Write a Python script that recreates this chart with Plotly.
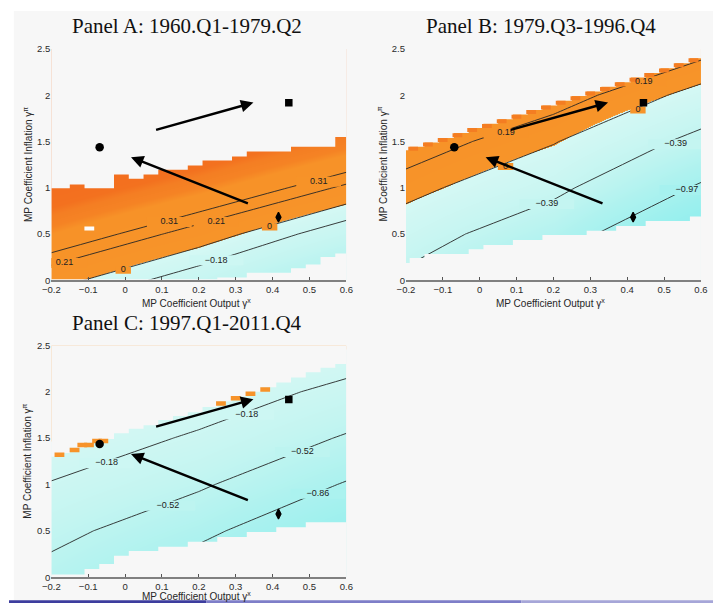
import plotly.graph_objects as go

W, H = 720, 608
BG = '#F7F7F7'
SANS = 'Liberation Sans, Arial, sans-serif'
SERIF = 'Liberation Serif, Times New Roman, serif'

# ---------------- data ----------------
TITLES = ['Panel A: 1960.Q1-1979.Q2', 'Panel B: 1979.Q3-1996.Q4', 'Panel C: 1997.Q1-2011.Q4']

# coarse node grid of the surface (x = output coeff, y = inflation coeff)
X_NODES = [-0.2, 0.2, 0.6]
Y_NODES = [-0.5, 0.0, 0.5, 1.0, 1.5, 2.0, 2.5, 3.0]

Z_A = [[-0.335, -0.77, -1.40],
       [0.09, -0.32, -0.88],
       [0.46, 0.13, -0.33],
       [0.80, 0.51, 0.18],
       [1.15, 0.86, 0.57],
       [1.50, 1.20, 0.92],
       [1.85, 1.55, 1.27],
       [2.20, 1.90, 1.62]]
Z_B = [[-0.92, -1.66, -2.80],
       [-0.48, -1.20, -2.20],
       [-0.18, -0.70, -1.63],
       [0.095, -0.28, -1.03],
       [0.33, 0.02, -0.50],
       [0.55, 0.31, -0.09],
       [0.77, 0.58, 0.28],
       [0.99, 0.85, 0.60]]
Z_C = [[-0.87, -1.42, -2.05],
       [-0.64, -1.09, -1.65],
       [-0.42, -0.77, -1.26],
       [-0.196, -0.475, -0.885],
       [0.01, -0.22, -0.55],
       [0.20, 0.00, -0.26],
       [0.40, 0.22, 0.02],
       [0.60, 0.44, 0.28]]

LEVELS_A = [0.31, 0.21, 0.0, -0.18]
LEVELS_B = [0.19, 0.0, -0.39, -0.97]
LEVELS_C = [-0.18, -0.52, -0.86]

# contour label positions
LAB_A_LV = [0.31, 0.31, 0.21, 0.21, 0.0, 0.0, -0.18]
LAB_A_X = [0.12, 0.525, -0.164, 0.247, -0.005, 0.392, 0.247]
LAB_A_Y = [0.629, 1.064, 0.187, 0.629, 0.109, 0.576, 0.215]
LAB_B_LV = [0.19, 0.19, 0.0, 0.0, -0.39, -0.39, -0.97]
LAB_B_X = [0.071, 0.445, 0.07, 0.429, 0.182, 0.531, 0.562]
LAB_B_Y = [1.59, 2.15, 1.23, 1.839, 0.824, 1.47, 0.976]
LAB_C_LV = [-0.18, -0.18, -0.52, -0.52, -0.86]
LAB_C_X = [-0.05, 0.33, 0.116, 0.481, 0.523]
LAB_C_Y = [1.229, 1.755, 0.77, 1.35, 0.90]

# columns of the computed region and its top / bottom per column
COL_X = [-0.21, -0.17, -0.13, -0.09, -0.05, -0.01, 0.03, 0.07, 0.11, 0.15, 0.19,
         0.23, 0.27, 0.31, 0.35, 0.39, 0.43, 0.47, 0.51, 0.55, 0.59]
A_UPPER = [0.994, 0.994, 1.036, 0.994, 0.994, 1.142, 1.096, 1.142, 1.195, 1.195, 1.241,
           1.294, 1.294, 1.337, 1.39, 1.39, 1.39, 1.443, 1.443, 1.443, 1.549]
A_LOWER = [0.01, 0.01, 0.01, 0.01, 0.01, 0.01, 0.01, 0.01, 0.01, 0.01, 0.01,
           0.01, 0.03, 0.03, 0.08, 0.08, 0.08, 0.13, 0.17, 0.25, 0.29]
B_UPPER = [1.405, 1.443, 1.489, 1.538, 1.59, 1.645, 1.69, 1.74, 1.79, 1.84, 1.889,
           1.94, 1.99, 2.04, 2.09, 2.14, 2.19, 2.24, 2.29, 2.345, 2.40]
B_LOWER = [0.187, 0.24, 0.283, 0.283, 0.283, 0.336, 0.382, 0.382, 0.435, 0.435, 0.488,
           0.488, 0.488, 0.534, 0.534, 0.587, 0.587, 0.64, 0.64, 0.64, 0.69]
C_UPPER = [1.30, 1.34, 1.395, 1.45, 1.49, 1.554, 1.60, 1.64, 1.695, 1.74, 1.78,
           1.835, 1.896, 1.95, 2.0, 2.05, 2.10, 2.155, 2.21, 2.26, 2.30]
C_LOWER = [0.029, 0.029, 0.029, 0.089, 0.142, 0.23, 0.283, 0.283, 0.328, 0.328, 0.381,
           0.381, 0.434, 0.434, 0.487, 0.487, 0.54, 0.54, 0.593, 0.593, 0.593]

# odd cells
A_HOLE_X = [-0.097]
A_HOLE_Y = [0.56]
C_BLOB_X = [-0.178, -0.137, -0.116, -0.098, -0.076, -0.059, 0.26, 0.30, 0.34, 0.38]
C_BLOB_Y = [1.32, 1.372, 1.425, 1.425, 1.47, 1.47, 1.875, 1.93, 1.98, 2.025]

# the three parameter points and the two arrows (same in every panel)
PTS_X = [-0.069, 0.444, 0.416]
PTS_Y = [1.436, 1.917, 0.682]
ARROW_TAIL_X = [0.08, 0.337]
ARROW_TAIL_Y = [1.62, 0.824]
ARROW_HEAD_X = [0.348, 0.016]
ARROW_HEAD_Y = [1.92, 1.33]

X_TICKS = [-0.2, -0.1, 0, 0.1, 0.2, 0.3, 0.4, 0.5, 0.6]
Y_TICKS = [0, 0.5, 1, 1.5, 2, 2.5]

# ---------------- styling ----------------
CS_Z = [(-1.6, '#8EEEEE'), (-1.2, '#9CF0EE'), (-0.8, '#AEF2EF'), (-0.4, '#C4F5F1'),
        (-0.001, '#D5F8F4'), (0.0, '#F79429'), (0.46, '#F79228'), (0.52, '#F58324'),
        (0.60, '#F47E23'), (0.66, '#F3711F'), (1.0, '#F26A1E')]
ZMIN, ZMAX = -1.6, 1.0
COLORSCALE = [[(z - ZMIN) / (ZMAX - ZMIN), c] for z, c in CS_Z]


def _rgb(h):
    h = h.lstrip('#')
    return [int(h[i:i + 2], 16) for i in (0, 2, 4)]


def color_at(z):
    if z <= CS_Z[0][0]:
        return CS_Z[0][1]
    for (z0, c0), (z1, c1) in zip(CS_Z, CS_Z[1:]):
        if z0 <= z <= z1:
            t = (z - z0) / (z1 - z0)
            a, b = _rgb(c0), _rgb(c1)
            return 'rgb(%d,%d,%d)' % tuple(round(a[i] + (b[i] - a[i]) * t) for i in range(3))
    return CS_Z[-1][1]


def fmt(v):
    if v == 0:
        return '0'
    return ('\u2212' if v < 0 else '') + '%.2f' % abs(v)


CELL = 0.04
X_DOM = {'A': [43.3 / W, 345.0 / W], 'B': [406.0 / W, 707.7 / W], 'C': [43.3 / W, 345.0 / W]}
Y_DOM = {'A': [1 - 279.3 / H, 1 - 43.7 / H], 'B': [1 - 279.3 / H, 1 - 43.7 / H],
         'C': [1 - 581.7 / H, 1 - 345.7 / H]}

panels = [
    dict(key='A', n='', z=Z_A, lv=LEVELS_A, llv=LAB_A_LV, lx=LAB_A_X, ly=LAB_A_Y,
         up=A_UPPER, lo=A_LOWER, title=TITLES[0]),
    dict(key='B', n='2', z=Z_B, lv=LEVELS_B, llv=LAB_B_LV, lx=LAB_B_X, ly=LAB_B_Y,
         up=B_UPPER, lo=B_LOWER, title=TITLES[1]),
    dict(key='C', n='3', z=Z_C, lv=LEVELS_C, llv=LAB_C_LV, lx=LAB_C_X, ly=LAB_C_Y,
         up=C_UPPER, lo=C_LOWER, title=TITLES[2]),
]

fig = go.Figure()
layout = dict(width=W, height=H, margin=dict(l=0, r=0, t=0, b=0),
              paper_bgcolor='#FFFFFF', plot_bgcolor=BG, showlegend=False)
annotations = []
shapes = [dict(type='rect', xref='paper', yref='paper', x0=5 / W, x1=1, y0=0, y1=1 - 5 / H,
               fillcolor=BG, line=dict(width=0), layer='below')]


def stair(vals):
    xs, ys = [], []
    for c, v in zip(COL_X, vals):
        xs += [c - CELL / 2, c + CELL / 2]
        ys += [v, v]
    return xs, ys


for p in panels:
    xa, ya = 'x' + p['n'], 'y' + p['n']
    common = dict(xaxis=xa, yaxis=ya, hoverinfo='skip', showlegend=False)
    # surface
    fig.add_trace(go.Heatmap(x=X_NODES, y=Y_NODES, z=p['z'], zsmooth='best',
                             colorscale=COLORSCALE, zmin=ZMIN, zmax=ZMAX, showscale=False, **common))
    # contour lines
    for lv in p['lv']:
        fig.add_trace(go.Contour(x=X_NODES, y=Y_NODES, z=p['z'], autocontour=False,
                                 contours=dict(start=lv, end=lv + 1e-4, size=1, coloring='none'),
                                 line=dict(color='#262626', width=0.9, smoothing=0),
                                 showscale=False, **common))
    # gaps in the lines behind the labels (zero labels get a small gap only)
    texts = [fmt(v) for v in p['llv']]
    for zero in (False, True):
        idx = [i for i, v in enumerate(p['llv']) if (v == 0) == zero]
        if not idx:
            continue
        fig.add_trace(go.Scatter(x=[p['lx'][i] for i in idx], y=[p['ly'][i] for i in idx], mode='markers',
                                 marker=dict(symbol='line-ew', opacity=1,
                                             size=[4 + 7 * len(texts[i]) for i in idx],
                                             line=dict(width=7 if zero else 10,
                                                       color=[color_at(p['llv'][i]) for i in idx])),
                                 **common))
    # masks outside the computed region
    sx, sy = stair(p['up'])
    fig.add_trace(go.Scatter(x=[-0.3, -0.3] + sx + [0.7, 0.7], y=[2.8, p['up'][0]] + sy + [p['up'][-1], 2.8],
                             mode='lines', fill='toself', fillcolor=BG, line=dict(width=0), **common))
    sx, sy = stair(p['lo'])
    fig.add_trace(go.Scatter(x=[-0.3, -0.3] + sx + [0.7, 0.7], y=[-0.3, p['lo'][0]] + sy + [p['lo'][-1], -0.3],
                             mode='lines', fill='toself', fillcolor=BG, line=dict(width=0), **common))
    # odd cells
    if p['key'] == 'A':
        fig.add_trace(go.Scatter(x=A_HOLE_X, y=A_HOLE_Y, mode='markers',
                                 marker=dict(symbol='line-ew', size=7, opacity=1,
                                             line=dict(width=4, color='#FDFDFD')),
                                 **common))
    if p['key'] == 'B':
        fig.add_trace(go.Scatter(x=[c - CELL / 2 + 0.0095 for c in COL_X[1:]],
                                 y=[u - 0.022 for u in B_UPPER[1:]], mode='markers',
                                 marker=dict(symbol='line-ew', size=7, opacity=1,
                                             line=dict(width=4, color='#F47D22')),
                                 **common))
    if p['key'] == 'C':
        fig.add_trace(go.Scatter(x=C_BLOB_X, y=C_BLOB_Y, mode='markers',
                                 marker=dict(symbol='line-ew', size=7, opacity=1,
                                             line=dict(width=4.5, color='#F7932A')),
                                 **common))
    # label texts
    fig.add_trace(go.Scatter(x=p['lx'], y=p['ly'], mode='text', text=texts, textposition='middle center',
                             textfont=dict(family=SANS, size=9, color='#222222'), **common))
    # parameter points
    fig.add_trace(go.Scatter(x=PTS_X, y=PTS_Y, mode='markers',
                             marker=dict(symbol=['circle', 'square', 'diamond-tall'], size=[8.5, 7.5, 7],
                                         opacity=1, color='#000000',
                                         line=dict(width=[0, 0, 1.3], color='#000000')), **common))
    # arrows
    for tx, ty, hx, hy in zip(ARROW_TAIL_X, ARROW_TAIL_Y, ARROW_HEAD_X, ARROW_HEAD_Y):
        annotations.append(dict(x=hx, y=hy, ax=tx, ay=ty, xref=xa, yref=ya, axref=xa, ayref=ya,
                                text='', showarrow=True, arrowhead=2, arrowsize=1.0, arrowwidth=2.5,
                                arrowcolor='#000000', standoff=0))
    # axes
    layout['xaxis' + p['n']] = dict(domain=X_DOM[p['key']], anchor=ya, range=[-0.2, 0.6],
                                    tickvals=X_TICKS, ticks='inside', ticklen=3, tickwidth=1,
                                    tickcolor='#555555', showline=True, linecolor='#808080',
                                    linewidth=1.5, showgrid=False, zeroline=False,
                                    tickfont=dict(family=SANS, size=9.5, color='#2a2a2a'))
    layout['yaxis' + p['n']] = dict(domain=Y_DOM[p['key']], anchor=xa, range=[0, 2.5],
                                    tickvals=Y_TICKS, ticks='', showline=False, showgrid=False,
                                    zeroline=False,
                                    tickfont=dict(family=SANS, size=9.5, color='#2a2a2a'))
    # titles
    xd, yd = X_DOM[p['key']], Y_DOM[p['key']]
    tx = {'A': 182, 'B': 544, 'C': 182}[p['key']] / W
    tyy = yd[1] + 23.0 / H
    annotations.append(dict(xref='paper', yref='paper', x=tx, y=tyy, text=p['title'], showarrow=False,
                            xanchor='center', yanchor='middle',
                            font=dict(family=SERIF, size=21, color='#111111')))
    ylab_x = (xd[0] * W - 24.5) / W
    annotations.append(dict(xref='paper', yref='paper', x=ylab_x, y=(yd[0] + yd[1]) / 2,
                            text='MP Coefficient Inflation \u03b3<sup>\u03c0</sup>', textangle=-90,
                            showarrow=False, xanchor='center', yanchor='middle',
                            font=dict(family=SANS, size=10, color='#262626')))
    xlab = dict(xref='paper', yref='paper', x=(xd[0] + xd[1]) / 2 - 0.004,
                text='MP Coefficient Output \u03b3<sup>x</sup>', showarrow=False, xanchor='center',
                yanchor='middle', font=dict(family=SANS, size=10, color='#262626'))
    if p['key'] == 'C':
        xlab.update(y=1 - 600.5 / H)
    else:
        xlab.update(y=yd[0] - 22.7 / H)
    annotations.append(xlab)

# beamer footer bar
for x0, x1, col in [(0, 202, '#3D3D9E'), (202, 524, '#7E7EC8'), (524, 720, '#A6A6D8')]:
    shapes.append(dict(type='rect', xref='paper', yref='paper', x0=x0 / W, x1=x1 / W,
                       y0=0, y1=2.7 / H, fillcolor=col, line=dict(width=0), layer='above'))

layout['annotations'] = annotations
layout['shapes'] = shapes
fig.update_layout(**layout)
fig.write_html('out.html', config={'displayModeBar': False},
               post_script="document.body.style.margin='0';document.body.style.padding='0';"
                           "document.body.style.overflow='hidden';")
